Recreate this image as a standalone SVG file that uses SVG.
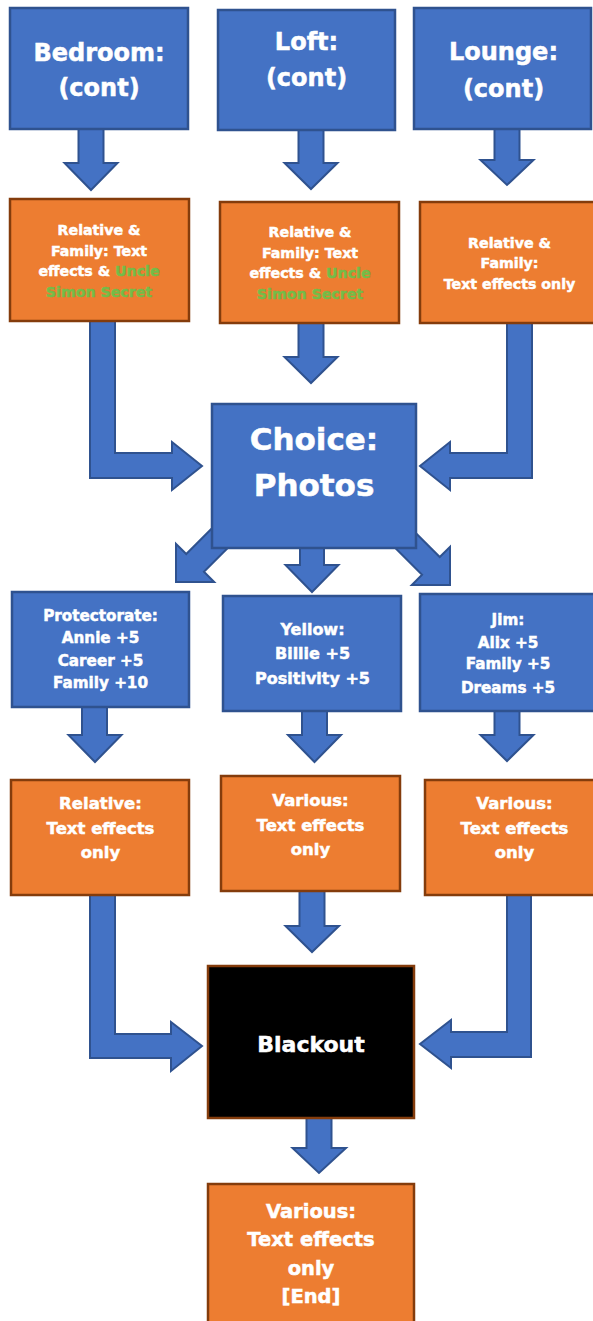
<svg xmlns="http://www.w3.org/2000/svg" width="593" height="1321" viewBox="0 0 593 1321">
  <style>
    .blue { fill: #4472C4; stroke: #2F528F; stroke-width: 2.5; }
    .orange { fill: #ED7D31; stroke: #843C0C; stroke-width: 2.5; }
    .dark { fill: #000000; stroke: #843C0C; stroke-width: 2.5; }
    .arrow { fill: #4472C4; stroke: #2F528F; stroke-width: 2; stroke-linejoin: miter; }
    text { font-family: "DejaVu Sans", "Liberation Sans", sans-serif; font-weight: bold; fill: #FFFFFF; stroke: #FFFFFF; stroke-width: 0.5; text-anchor: middle; }
    .t24 { font-size: 24px; }
    .t14 { font-size: 14.2px; }
    .t31 { font-size: 31px; }
    .t15 { font-size: 15.2px; }
    .t16 { font-size: 16px; }
    .t165 { font-size: 16.5px; }
    .t22 { font-size: 22px; }
    .t195 { font-size: 19.5px; }
    .green { fill: #74BC48; stroke: #74BC48; }
  </style>
  <defs>
    <!-- block arrow pointing along +x with its tip at the origin -->
    <path id="diag" d="M-90,-12.5 H-27 V-27 L0,0 L-27,27 V12.5 H-90 Z"/>
  </defs>

  <g id="connectors">
    <!-- top row down arrows -->
    <path class="arrow" d="M78.5,128 H103.5 V163 H117.5 L91,190 L64.5,163 H78.5 Z"/>
    <path class="arrow" d="M298.5,129 H323.5 V163 H337.5 L311,189 L284.5,163 H298.5 Z"/>
    <path class="arrow" d="M494.5,128 H519.5 V160 H533.5 L507,185 L480.5,160 H494.5 Z"/>
    <!-- into Choice -->
    <path class="arrow" d="M90,321 H115 V453 H172 V442 L202,466 L172,490 V478 H90 Z"/>
    <path class="arrow" d="M298.5,322 H323.5 V357 H337.5 L311,383 L284.5,357 H298.5 Z"/>
    <path class="arrow" d="M507,322 H532 V478 H450 V490 L420,466 L450,442 V453 H507 Z"/>
    <!-- out of Choice -->
    <use href="#diag" class="arrow" transform="translate(176,582) rotate(135)"/>
    <use href="#diag" class="arrow" transform="translate(450,585) rotate(45)"/>
    <path class="arrow" d="M300,546 H324 V565 H338.5 L312,592 L285.5,565 H300 Z"/>
    <!-- outcome row down arrows -->
    <path class="arrow" d="M82,706 H107 V735 H121.5 L95,762 L68.5,735 H82 Z"/>
    <path class="arrow" d="M302,710 H327 V735 H341 L314.5,762 L288,735 H302 Z"/>
    <path class="arrow" d="M494.5,710 H519.5 V735 H533.5 L507,761 L480.5,735 H494.5 Z"/>
    <!-- into Blackout -->
    <path class="arrow" d="M90,894 H115 V1034 H171 V1022 L202,1046 L171,1071 V1058 H90 Z"/>
    <path class="arrow" d="M299.5,890 H324.5 V926 H339 L312,952 L285.5,926 H299.5 Z"/>
    <path class="arrow" d="M507,894 H531 V1057 H451 V1068 L420,1044 L451,1020 V1032 H507 Z"/>
    <!-- out of Blackout -->
    <path class="arrow" d="M306.5,1117 H331.5 V1148 H346 L319,1173 L292.5,1148 H306.5 Z"/>
  </g>

  <g id="bedroom">
    <rect class="blue" x="10" y="8" width="178" height="121"/>
    <text class="t24" x="99" y="61">Bedroom:</text>
    <text class="t24" x="99" y="96">(cont)</text>
  </g>
  <g id="loft">
    <rect class="blue" x="218" y="10" width="177" height="120"/>
    <text class="t24" x="306.5" y="50">Loft:</text>
    <text class="t24" x="306.5" y="86">(cont)</text>
  </g>
  <g id="lounge">
    <rect class="blue" x="414" y="8" width="177" height="121"/>
    <text class="t24" x="503.5" y="60">Lounge:</text>
    <text class="t24" x="503.5" y="97">(cont)</text>
  </g>

  <g id="bedroom-effects">
    <rect class="orange" x="10" y="199" width="179" height="122"/>
    <text class="t14" x="99" y="235">Relative &amp;</text>
    <text class="t14" x="99" y="256">Family: Text</text>
    <text class="t14" x="99" y="276">effects &amp; <tspan class="green">Uncle</tspan></text>
    <text class="t14 green" x="99" y="297">Simon Secret</text>
  </g>
  <g id="loft-effects">
    <rect class="orange" x="220" y="202" width="179" height="121"/>
    <text class="t14" x="310" y="237">Relative &amp;</text>
    <text class="t14" x="310" y="258">Family: Text</text>
    <text class="t14" x="310" y="278">effects &amp; <tspan class="green">Uncle</tspan></text>
    <text class="t14 green" x="310" y="299">Simon Secret</text>
  </g>
  <g id="lounge-effects">
    <rect class="orange" x="420" y="202" width="178" height="121"/>
    <text class="t14" x="509.5" y="248">Relative &amp;</text>
    <text class="t14" x="509.5" y="268">Family:</text>
    <text class="t14" x="509.5" y="289">Text effects only</text>
  </g>

  <g id="choice">
    <rect class="blue" x="212" y="404" width="204" height="144"/>
    <text class="t31" x="314" y="450">Choice:</text>
    <text class="t31" x="314" y="496">Photos</text>
  </g>

  <g id="protectorate">
    <rect class="blue" x="12" y="592" width="177" height="115"/>
    <text class="t15" x="100.5" y="621">Protectorate:</text>
    <text class="t15" x="100.5" y="643">Annie +5</text>
    <text class="t15" x="100.5" y="666">Career +5</text>
    <text class="t15" x="100.5" y="688">Family +10</text>
  </g>
  <g id="yellow">
    <rect class="blue" x="223" y="596" width="178" height="115"/>
    <text class="t16" x="312.5" y="635">Yellow:</text>
    <text class="t16" x="312.5" y="659">Billie +5</text>
    <text class="t16" x="312.5" y="684">Positivity +5</text>
  </g>
  <g id="jim">
    <rect class="blue" x="420" y="594" width="176" height="117"/>
    <text class="t15" x="508" y="625">Jim:</text>
    <text class="t15" x="508" y="648">Alix +5</text>
    <text class="t15" x="508" y="669">Family +5</text>
    <text class="t15" x="508" y="693">Dreams +5</text>
  </g>

  <g id="relative-effects">
    <rect class="orange" x="11" y="780" width="178" height="115"/>
    <text class="t165" x="100.5" y="809">Relative:</text>
    <text class="t165" x="100.5" y="834">Text effects</text>
    <text class="t165" x="100.5" y="858">only</text>
  </g>
  <g id="various-middle">
    <rect class="orange" x="221" y="776" width="179" height="115"/>
    <text class="t165" x="310.5" y="806">Various:</text>
    <text class="t165" x="310.5" y="831">Text effects</text>
    <text class="t165" x="310.5" y="855">only</text>
  </g>
  <g id="various-right">
    <rect class="orange" x="425" y="780" width="172" height="115"/>
    <text class="t165" x="514.5" y="809">Various:</text>
    <text class="t165" x="514.5" y="834">Text effects</text>
    <text class="t165" x="514.5" y="858">only</text>
  </g>

  <g id="blackout">
    <rect class="dark" x="208" y="966" width="206" height="152"/>
    <text class="t22" x="311" y="1052">Blackout</text>
  </g>

  <g id="end">
    <rect class="orange" x="208" y="1184" width="206" height="142"/>
    <text class="t195" x="311" y="1218">Various:</text>
    <text class="t195" x="311" y="1246">Text effects</text>
    <text class="t195" x="311" y="1275">only</text>
    <text class="t195" x="311" y="1303">[End]</text>
  </g>
</svg>
